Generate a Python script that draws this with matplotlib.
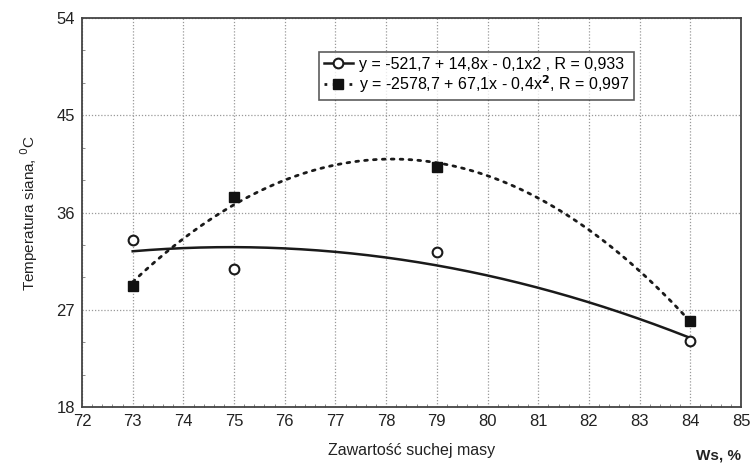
import numpy as np
import matplotlib
matplotlib.use("Agg")
import matplotlib.pyplot as plt
from matplotlib.ticker import MultipleLocator

plt.rcParams['font.family'] = ['Liberation Sans', 'DejaVu Sans']

x_vals = [73, 75, 79, 84]
temp_open = [33.5, 30.8, 32.3, 24.1]
temp_filled = [29.2, 37.4, 40.2, 26.0]
label_open = "y = -521,7 + 14,8x - 0,1x2 , R = 0,933"
label_filled = "y = -2578,7 + 67,1x - 0,4x$^{\\mathbf{2}}$, R = 0,997"
x_ticks = list(range(72, 86))
y_ticks = [18, 27, 36, 45, 54]

fig = plt.figure(figsize=(7.53, 4.67), dpi=100)
ax = fig.add_axes([82/753, 1 - 407/467, (741-82)/753, (407-18)/467])

xs = np.linspace(min(x_vals), max(x_vals), 200)
c1 = np.polyfit(x_vals, temp_open, 2)
c2 = np.polyfit(x_vals, temp_filled, 2)

ax.plot(xs, np.polyval(c1, xs), color='#1a1a1a', lw=1.8, zorder=3)
ax.plot(xs, np.polyval(c2, xs), color='#1a1a1a', lw=2.0, ls=(0, (1, 2.2)), dash_capstyle='round', zorder=3)
ax.plot(x_vals, temp_open, 'o', ms=7, mfc='white', mec='#1a1a1a', mew=1.5, zorder=4)
ax.plot(x_vals, temp_filled, 's', ms=7, mfc='#111111', mec='#111111', zorder=4)

# legend handles
h1, = ax.plot([], [], color='#1a1a1a', lw=1.8, marker='o', ms=7, mfc='white', mec='#1a1a1a', mew=1.5)
h2, = ax.plot([], [], color='#1a1a1a', lw=2.0, ls=(0, (1, 2)), marker='s', ms=7, mfc='#111111', mec='#111111')
leg = ax.legend([h1, h2], [label_open, label_filled], loc='upper left',
                bbox_to_anchor=((319-82)/659, 1 - (52-18)/389), frameon=True,
                fancybox=False, edgecolor='#333333', fontsize=11.5, handlelength=1.8,
                handletextpad=0.4, borderpad=0.3, labelspacing=0.1, borderaxespad=0)
leg.get_frame().set_linewidth(1.2)

ax.set_xlim(72, 85)
ax.set_ylim(18, 54)
ax.set_xticks(x_ticks)
ax.set_yticks(y_ticks)
ax.xaxis.set_minor_locator(MultipleLocator(0.2))
ax.yaxis.set_minor_locator(MultipleLocator(3))
ax.tick_params(which='major', direction='in', length=0, labelsize=12, colors='#222222', pad=5)
ax.tick_params(which='minor', direction='in', length=2.5, color='#777777')
ax.grid(True, which='major', ls=(0, (1, 1.5)), color='#999999', lw=0.9)
for s in ax.spines.values():
    s.set_color('#444444')
    s.set_linewidth(1.3)

ax.set_xlabel('Zawartość suchej masy', fontsize=11.5, color='#222222', labelpad=10)
ax.set_ylabel('Temperatura siana, $^{\\mathrm{0}}$C', fontsize=11, color='#222222', labelpad=12)
fig.text(718/753, 1 - 456/467, 'Ws, %', fontsize=11, color='#222222', ha='center', va='center', fontweight='bold')

fig.savefig('out.png', dpi=100, facecolor='white')
